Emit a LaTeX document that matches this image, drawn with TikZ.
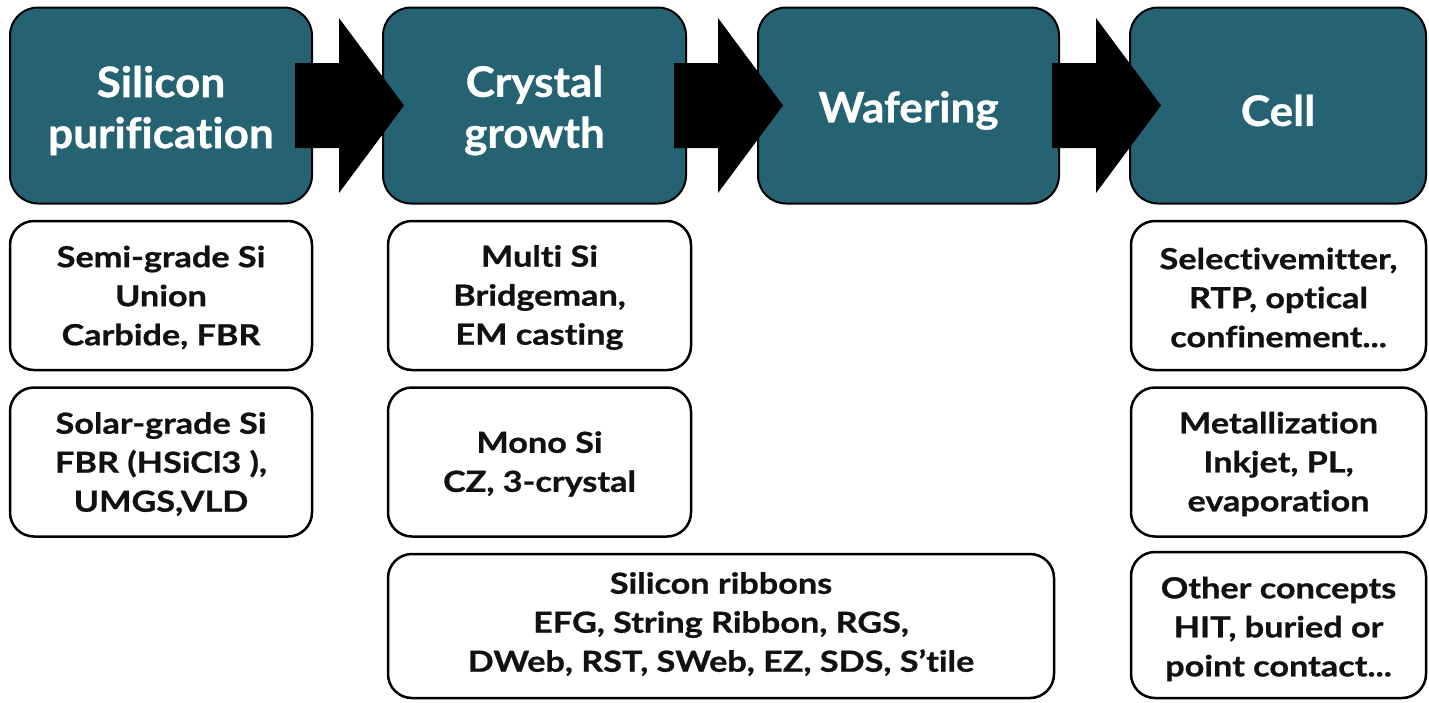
\documentclass[tikz,border=0pt]{standalone}
\usepackage{fontspec}
\setmainfont{Lato}
\newfontfamily\stagefont{Lato}[FakeStretch=1.05,FakeBold=0.8,Ligatures=NoCommon]
\newfontfamily\itemfont{Lato}[FakeStretch=1.18,FakeBold=0.8,Ligatures=NoCommon]
\usetikzlibrary{calc}
\definecolor{stage}{HTML}{256272}
\definecolor{ink}{HTML}{111111}
% block arrow starting at a named coordinate, pointing right
\newcommand{\blockarrowat}[1]{%
  \fill[black] (#1) ++(0,-42.5) -- ++(44,0) -- ++(0,-45) -- ++(65,87.5)
    -- ++(-65,87.5) -- ++(0,-45) -- ++(-44,0) -- cycle;}
\begin{document}
\begin{tikzpicture}[x=1pt,y=-1pt,
  stagebox/.style={draw=black, line width=2pt, fill=stage, rounded corners=28pt,
    inner sep=0pt, outer sep=0pt, minimum height=196pt},
  stagetext/.style={inner sep=0pt, text=white, align=center,
    font=\stagefont\bfseries\fontsize{42}{51}\selectfont},
  itembox/.style={draw=black, line width=2.5pt, fill=white, rounded corners=24pt,
    inner sep=0pt, outer sep=0pt},
  itemtext/.style={inner sep=0pt, text=ink, align=center,
    font=\itemfont\bfseries\fontsize{29}{39}\selectfont}]
\useasboundingbox (0,0) rectangle (1429,702);

% process stages
\node[stagebox, minimum width=302pt] (h1) at (161,105.5) {};
\node[stagebox, minimum width=303pt] (h2) at (534.5,105.5) {};
\node[stagebox, minimum width=301pt] (h3) at (908.5,105.5) {};
\node[stagebox, minimum width=296pt] (h4) at (1278,105.5) {};
\node[stagetext] (t1) at ($(h1.center)+(0,5)$) {Silicon\\purification};
\node[stagetext] (t2) at ($(h2.center)+(0,5)$) {Crystal\\growth};
\node[stagetext] (t3) at ($(h3.center)+(0,5)$) {Wafering};
\node[stagetext] (t4) at ($(h4.center)+(0,5)$) {Cell};

% arrows between stages
\path (h1.east) ++(-17,0) coordinate (a1);
\path (h2.east) ++(-12,0) coordinate (a2);
\path (h3.east) ++(-7,0) coordinate (a3);
\blockarrowat{a1}
\blockarrowat{a2}
\blockarrowat{a3}

% silicon purification routes
\node[itembox, minimum width=302pt, minimum height=149pt] (p1) at (161,295.5) {};
\node[itembox, minimum width=302pt, minimum height=149pt] (p2) at (161,462) {};
% crystal growth routes
\node[itembox, minimum width=303pt, minimum height=149pt] (g1) at (539.5,295.5) {};
\node[itembox, minimum width=303pt, minimum height=149pt] (g2) at (539.5,462) {};
\node[itembox, minimum width=666pt, minimum height=144pt] (g3) at (721,626) {};
% cell technologies
\node[itembox, minimum width=295pt, minimum height=149pt] (c1) at (1278.5,295.5) {};
\node[itembox, minimum width=295pt, minimum height=149pt] (c2) at (1278.5,462) {};
\node[itembox, minimum width=295pt, minimum height=146pt] (c3) at (1278.5,625) {};

\node[itemtext] (tp1) at ($(p1.center)+(0,2)$) {Semi-grade Si\\Union\\Carbide, FBR};
\node[itemtext] (tp2) at ($(p2.center)+(0,2)$) {Solar-grade Si\\FBR (HSiCl3 ),\\UMGS,VLD};
\node[itemtext] (tg1) at ($(g1.center)+(0,2)$) {Multi Si\\Bridgeman,\\EM casting};
\node[itemtext] (tg2) at ($(g2.center)+(0,2)$) {Mono Si\\CZ, 3-crystal};
\node[itemtext] (tg3) at ($(g3.center)+(0,-2)$) {Silicon ribbons\\EFG, String Ribbon, RGS,\\DWeb, RST, SWeb, EZ, SDS, S’tile};
\node[itemtext] (tc1) at ($(c1.center)+(0,2)$) {Selectivemitter,\\RTP, optical\\confinement...};
\node[itemtext] (tc2) at ($(c2.center)+(0,2)$) {Metallization\\Inkjet, PL,\\evaporation};
\node[itemtext] (tc3) at ($(c3.center)+(0,4)$) {Other concepts\\HIT, buried or\\point contact...};
\end{tikzpicture}
\end{document}
